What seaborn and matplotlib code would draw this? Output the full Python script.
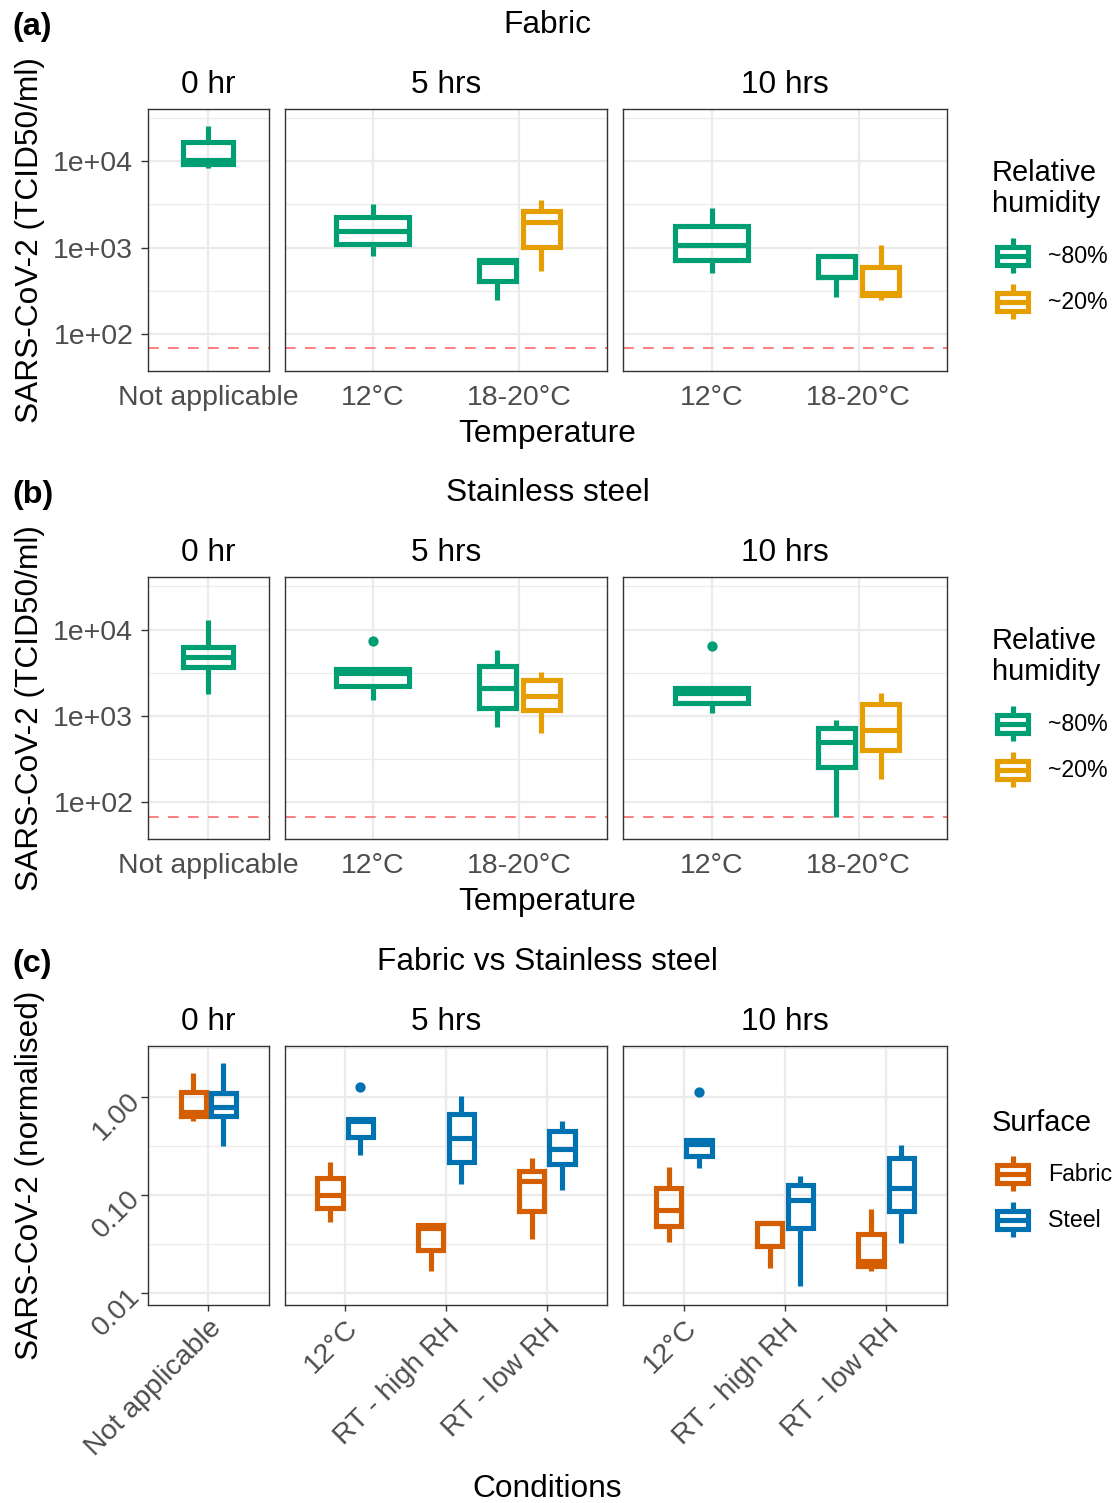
import numpy as np
import pandas as pd
import matplotlib
matplotlib.use("Agg")
import matplotlib.pyplot as plt
import seaborn as sns
from matplotlib.patches import Patch, Rectangle
from matplotlib.lines import Line2D
from matplotlib.legend_handler import HandlerBase
from matplotlib.ticker import FixedLocator, NullFormatter

# ---------------------------------------------------------------- data
time_levels = ["0 hr", "5 hrs", "10 hrs"]

# (a) Fabric – SARS-CoV-2 (TCID50/ml); five-number summaries of each box
fabric_time = ["0 hr", "5 hrs", "5 hrs", "5 hrs", "10 hrs", "10 hrs", "10 hrs"]
fabric_temp = ["Not applicable", "12°C", "18-20°C", "18-20°C", "12°C", "18-20°C", "18-20°C"]
fabric_rh = ["~80%", "~80%", "~80%", "~20%", "~80%", "~80%", "~20%"]
fabric_lo = [8360, 800, 249, 536, 500, 268, 249]
fabric_q1 = [9440, 1107, 409, 1014, 710, 459, 282]
fabric_med = [10500, 1552, 679, 1972, 1064, 459, 299]
fabric_q3 = [16700, 2254, 723, 2649, 1758, 789, 594]
fabric_hi = [26100, 3236, 723, 3532, 2904, 789, 1064]
fabric_out = [None, None, None, None, None, None, None]

# (b) Stainless steel – SARS-CoV-2 (TCID50/ml)
steel_time = ["0 hr", "5 hrs", "5 hrs", "5 hrs", "10 hrs", "10 hrs", "10 hrs"]
steel_temp = ["Not applicable", "12°C", "18-20°C", "18-20°C", "12°C", "18-20°C", "18-20°C"]
steel_rh = ["~80%", "~80%", "~80%", "~20%", "~80%", "~80%", "~20%"]
steel_lo = [1803, 1507, 745, 634, 1084, 67, 185]
steel_q1 = [3690, 2203, 1242, 1178, 1419, 259, 397]
steel_med = [4797, 3170, 2075, 1710, 1858, 500, 687]
steel_q3 = [6266, 3475, 3793, 2588, 2123, 721, 1361]
steel_hi = [12940, 3475, 5848, 3251, 2123, 889, 1849]
steel_out = [None, 7311, None, None, 6442, None, None]

# limit of detection (dashed line)
lod_tcid50 = 67.5

# (c) Fabric vs Stainless steel – normalised
cmp_time = ["0 hr", "0 hr"] + ["5 hrs"] * 6 + ["10 hrs"] * 6
cmp_cond = (["Not applicable"] * 2
            + ["12°C", "12°C", "RT - high RH", "RT - high RH", "RT - low RH", "RT - low RH"] * 2)
cmp_surface = ["Fabric", "Steel"] * 7
cmp_lo = [0.566, 0.315, 0.0535, 0.257, 0.01687, 0.1285, 0.03565, 0.1117,
          0.03304, 0.1897, 0.01795, 0.01186, 0.01698, 0.0323]
cmp_q1 = [0.634, 0.634, 0.0735, 0.385, 0.0274, 0.2173, 0.0684, 0.2089,
          0.0486, 0.2523, 0.03013, 0.0459, 0.01888, 0.0690]
cmp_med = [0.706, 0.791, 0.1012, 0.569, 0.0467, 0.3784, 0.1396, 0.2972,
           0.0706, 0.3304, 0.0515, 0.0885, 0.02138, 0.1183]
cmp_q3 = [1.104, 1.086, 0.1507, 0.600, 0.0490, 0.6637, 0.1762, 0.4457,
          0.1191, 0.3639, 0.0525, 0.1259, 0.0399, 0.2371]
cmp_hi = [1.730, 2.218, 0.2148, 0.600, 0.0490, 1.023, 0.236, 0.5702,
          0.1928, 0.3639, 0.0525, 0.156, 0.0714, 0.3251]
cmp_out = [None, None, None, 1.245, None, None, None, None,
           None, 1.125, None, None, None, None]

rh_levels = ["~80%", "~20%"]
surface_levels = ["Fabric", "Steel"]

# ---------------------------------------------------------------- style
GREEN, AMBER = "#009E73", "#E69F00"
ORANGE, BLUE = "#D55E00", "#0072B2"
rh_palette = {"~80%": GREEN, "~20%": AMBER}
surface_palette = {"Fabric": ORANGE, "Steel": BLUE}

W, H = 1120, 1503
sns.set_theme(style="white")
plt.rcParams["font.family"] = ["Liberation Sans", "DejaVu Sans"]
plt.rcParams["lines.scale_dashes"] = False
plt.rcParams["text.color"] = "black"
plt.rcParams["legend.labelcolor"] = "black"

TITLE_FS = 22.8
TICK_FS = 20.5
LEG_TITLE_FS = 20.9
LEG_FS = 16.7
TAG_FS = 23.3
BOX_LW = 3.7
GRID_C = "#EBEBEB"
FRAME_C = "#333333"
TICKLAB_C = "#4D4D4D"

fig = plt.figure(figsize=(W / 100, H / 100), dpi=100)


def px_axes(x0, x1, y0, y1):
    return fig.add_axes([x0 / W, 1 - y1 / H, (x1 - x0) / W, (y1 - y0) / H])


def ftext(x, y, s, **kw):
    return fig.text(x / W, 1 - y / H, s, **kw)


def build_long(times, cats, groups, lo, q1, med, q3, hi, outlier):
    rows = []
    for i in range(len(times)):
        top = outlier[i] if outlier[i] is not None else hi[i]
        # nine values whose quartiles land exactly on the read summaries
        for v in (lo[i], q1[i], q1[i], med[i], med[i], q3[i], q3[i], hi[i], top):
            rows.append((times[i], cats[i], groups[i], v))
    return pd.DataFrame(rows, columns=["time", "cat", "grp", "val"])


df_fabric = build_long(fabric_time, fabric_temp, fabric_rh, fabric_lo, fabric_q1,
                       fabric_med, fabric_q3, fabric_hi, fabric_out)
df_steel = build_long(steel_time, steel_temp, steel_rh, steel_lo, steel_q1,
                      steel_med, steel_q3, steel_hi, steel_out)
df_cmp = build_long(cmp_time, cmp_cond, cmp_surface, cmp_lo, cmp_q1,
                    cmp_med, cmp_q3, cmp_hi, cmp_out)

PANEL_X = [(148.3, 268.5), (284.7, 607.3), (623.3, 946.7)]
ORDERS_T = [["Not applicable"], ["12°C", "18-20°C"], ["12°C", "18-20°C"]]
ORDERS_C = [["Not applicable"], ["12°C", "RT - high RH", "RT - low RH"],
            ["12°C", "RT - high RH", "RT - low RH"]]


def style_lines(ax):
    for ln in ax.lines:
        ls = ln.get_linestyle()
        mk = ln.get_marker()
        if ls in ("None", "none", "", " ") and mk not in (None, "None", "", " "):
            c = ln.get_markeredgecolor()
            if isinstance(c, str) and c.lower() == "none":
                c = ln.get_color()
            ln.set_marker("o")
            ln.set_markerfacecolor(c)
            ln.set_markeredgecolor(c)
            ln.set_markersize(7.4)
            ln.set_markeredgewidth(0)
        else:
            ln.set_solid_joinstyle("miter")
            ln.set_solid_capstyle("projecting" if len(ln.get_xdata()) == 5 else "butt")


def draw_row(df, y0, y1, orders, xlims, hue_order, palette, ylim, majors,
             major_labels, minors, lod, cond_axis):
    for j, t in enumerate(time_levels):
        x0, x1 = PANEL_X[j]
        ax = px_axes(x0, x1, y0, y1)
        sub = df[df["time"] == t]
        order = orders[j]
        counts = sub.groupby("cat")["grp"].nunique()
        multi = [c for c in order if counts.get(c, 0) > 1]
        single = [c for c in order if counts.get(c, 0) == 1]
        common = dict(x="cat", y="val", hue="grp", order=order, hue_order=hue_order,
                      palette=palette, fill=False, linewidth=BOX_LW, log_scale=True,
                      legend=False, showcaps=False, fliersize=7.4, ax=ax)
        if multi:
            sns.boxplot(data=sub[sub["cat"].isin(multi)], dodge=True, width=0.6,
                        gap=1 / 6, **common)
        if single:
            sns.boxplot(data=sub[sub["cat"].isin(single)], dodge=False, width=0.5,
                        **common)
        style_lines(ax)
        if lod is not None:
            ax.axhline(lod, color="#FF8080", lw=1.45, ls=(0, (7.7, 6.7)), zorder=1.5)

        ax.set_xlim(*xlims[j])
        ax.set_ylim(*ylim)
        ax.set_yticks(majors)
        ax.yaxis.set_minor_locator(FixedLocator(minors))
        ax.yaxis.set_minor_formatter(NullFormatter())
        ax.set_xlabel("")
        ax.set_ylabel("")
        ax.grid(True, which="major", axis="both", color=GRID_C, linewidth=1.6)
        ax.grid(True, which="minor", axis="y", color=GRID_C, linewidth=0.9)
        ax.set_axisbelow(True)
        for s in ax.spines.values():
            s.set_color(FRAME_C)
            s.set_linewidth(1.0)
        ax.tick_params(axis="y", which="minor", length=0)
        if j == 0:
            ax.set_yticklabels(major_labels)
            ax.tick_params(axis="y", which="major", length=5, width=1.0, color=FRAME_C,
                           labelsize=TICK_FS, labelcolor=TICKLAB_C,
                           pad=4 if cond_axis else 5.8, left=True)
            if cond_axis:
                for lab in ax.get_yticklabels():
                    lab.set_rotation(45)
                    lab.set_ha("right")
                    lab.set_va("center")
                    lab.set_rotation_mode("anchor")
        else:
            ax.tick_params(axis="y", which="major", length=0, labelleft=False)
        if cond_axis:
            ax.tick_params(axis="x", length=4.3, width=1.0, color=FRAME_C, bottom=True,
                           labelsize=TICK_FS, labelcolor=TICKLAB_C, pad=3)
            for lab in ax.get_xticklabels():
                lab.set_rotation(45)
                lab.set_ha("right")
                lab.set_va("top")
                lab.set_rotation_mode("anchor")
        else:
            ax.tick_params(axis="x", length=0, labelsize=TICK_FS,
                           labelcolor=TICKLAB_C, pad=10)


class BoxKey(HandlerBase):
    def create_artists(self, legend, orig_handle, xdescent, ydescent, width,
                       height, fontsize, trans):
        c = orig_handle.get_edgecolor()
        x0, y0 = -xdescent, -ydescent
        bw = width * 0.86
        bx = x0 + (width - bw) / 2
        by0 = y0 + height * 0.22
        by1 = y0 + height * 0.74
        cx = x0 + width / 2
        rect = Rectangle((bx, by0), bw, by1 - by0, fill=False, ec=c, lw=BOX_LW,
                         joinstyle="miter", transform=trans)
        med = Line2D([bx, bx + bw], [(by0 + by1) / 2] * 2, color=c, lw=BOX_LW,
                     solid_capstyle="butt", transform=trans)
        wt = Line2D([cx, cx], [by1, y0 + height], color=c, lw=BOX_LW,
                    solid_capstyle="butt", transform=trans)
        wb = Line2D([cx, cx], [y0, by0], color=c, lw=BOX_LW,
                    solid_capstyle="butt", transform=trans)
        return [rect, med, wt, wb]


LEG_FS_PX = LEG_FS / 0.72
KEY_H = 35.0
KEY_W = 37.0
KEY_GAP = 11.0


def add_legend(levels, palette, key_top, title_lines, title_base):
    handles = [Patch(edgecolor=palette[l], facecolor="none", label=l) for l in levels]
    hh = (KEY_H / LEG_FS_PX - 0.245) / 0.65
    fig.legend(handles=handles, labels=levels, handler_map={Patch: BoxKey()},
               loc="upper left", bbox_to_anchor=(994.0 / W, 1 - key_top / H),
               frameon=False, borderpad=0, borderaxespad=0, fontsize=LEG_FS,
               handlelength=KEY_W / LEG_FS_PX, handleheight=hh,
               labelspacing=KEY_GAP / LEG_FS_PX, handletextpad=0.75,
               labelcolor="black")
    for k, line in enumerate(title_lines):
        ftext(992, title_base + 31 * k, line, fontsize=LEG_TITLE_FS,
              ha="left", va="baseline", color="black")


ROW_T = [(109.3, 370.7), (577.3, 839.3), (1046.0, 1305.0)]
XLIM_T = [(-0.6, 0.6), (-0.6, 1.6), (-0.6, 1.6)]
XLIM_C = [(-0.6, 0.6), (-0.6, 2.6), (-0.6, 2.6)]

ylim_t = (10 ** 1.570, 10 ** 4.605)
major_t = [1e2, 1e3, 1e4]
major_t_lab = ["1e+02", "1e+03", "1e+04"]
minor_t = [10 ** 1.5, 10 ** 2.5, 10 ** 3.5, 10 ** 4.5]

ylim_c = (10 ** -2.119, 10 ** 0.516)
major_c = [0.01, 0.1, 1.0]
major_c_lab = ["0.01", "0.10", "1.00"]
minor_c = [10 ** -1.5, 10 ** -0.5, 10 ** 0.5]

draw_row(df_fabric, *ROW_T[0], ORDERS_T, XLIM_T, rh_levels, rh_palette, ylim_t,
         major_t, major_t_lab, minor_t, lod_tcid50, False)
draw_row(df_steel, *ROW_T[1], ORDERS_T, XLIM_T, rh_levels, rh_palette, ylim_t,
         major_t, major_t_lab, minor_t, lod_tcid50, False)
draw_row(df_cmp, *ROW_T[2], ORDERS_C, XLIM_C, surface_levels, surface_palette, ylim_c,
         major_c, major_c_lab, minor_c, None, True)

# ---------------------------------------------------------------- texts
row_titles = ["Fabric", "Stainless steel", "Fabric vs Stainless steel"]
tags = ["(a)", "(b)", "(c)"]
ytitles = ["SARS-CoV-2 (TCID50/ml)", "SARS-CoV-2 (TCID50/ml)", "SARS-CoV-2 (normalised)"]
xtitles = ["Temperature", "Temperature", "Conditions"]
row_off = [0, 468, 937]
xtitle_y = [434, 902, 1489]

for r in range(3):
    o = row_off[r]
    y0, y1 = ROW_T[r]
    ftext(12, 27 + o, tags[r], fontsize=TAG_FS, fontweight="bold", ha="left",
          va="center", color="black")
    ftext(547.5, 25 + o, row_titles[r], fontsize=TITLE_FS, ha="center", va="center",
          color="black")
    for j, t in enumerate(time_levels):
        x0, x1 = PANEL_X[j]
        ftext((x0 + x1) / 2, 85 + o, t, fontsize=TITLE_FS, ha="center", va="center",
              color="black")
    ftext(30, (y0 + y1) / 2, ytitles[r], fontsize=TITLE_FS, rotation=90,
          ha="center", va="center", color="black")
    ftext(547.5, xtitle_y[r], xtitles[r], fontsize=TITLE_FS, ha="center", va="center",
          color="black")

add_legend(rh_levels, rh_palette, 238, ["Relative", "humidity"], 181)
add_legend(rh_levels, rh_palette, 238 + 468, ["Relative", "humidity"], 181 + 468)
add_legend(surface_levels, surface_palette, 1156, ["Surface"], 1131)

fig.savefig("out.png", dpi=100)
